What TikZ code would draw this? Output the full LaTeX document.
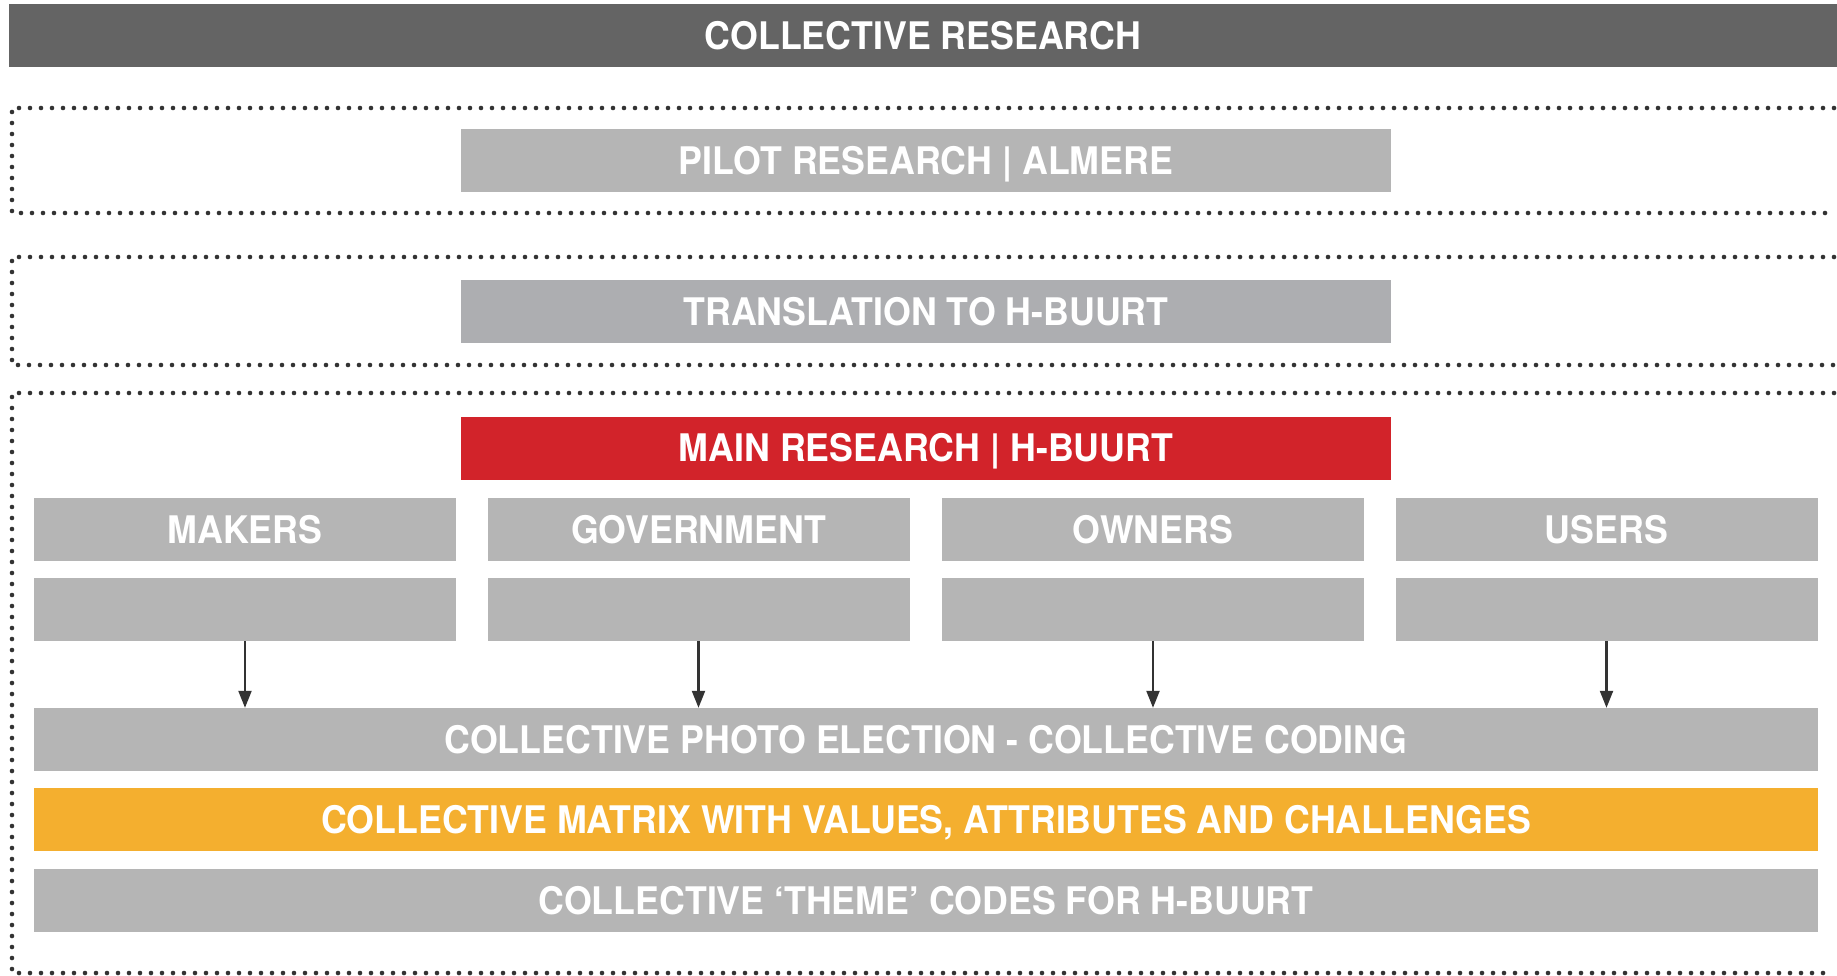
\documentclass[tikz,border=0pt]{standalone}
\usepackage{fontspec}
\setmainfont{TeX Gyre Heros}[FakeStretch=0.94]
\usetikzlibrary{arrows.meta}
\definecolor{topgray}{HTML}{646464}
\definecolor{boxgray}{HTML}{B5B5B5}
\definecolor{transgray}{HTML}{ADAEB1}
\definecolor{mainred}{HTML}{D2232A}
\definecolor{matorange}{HTML}{F4AF2F}
\definecolor{dotcol}{HTML}{333333}
\tikzset{
  blk/.style={rectangle, inner sep=0pt, draw=none, text=white,
    font=\fontsize{38}{40}\bfseries\selectfont, text height=27pt, text depth=0pt},
  colbox/.style={blk, fill=boxgray, minimum width=422pt, minimum height=63pt},
  midbox/.style={blk, minimum width=930pt, minimum height=63pt},
  widebox/.style={blk, minimum width=1784pt, minimum height=63pt},
  dotline/.style={draw=dotcol, line width=4.6pt, line cap=round, dash pattern=on 0pt off 11pt},
  arr/.style={draw=dotcol, line width=2.2pt, -{Triangle[length=17pt,width=13pt]}}
}
\begin{document}
\begin{tikzpicture}[x=1pt,y=-1pt]
\useasboundingbox (0,0) rectangle (1837,975);
% top bar
\node[blk, fill=topgray, minimum width=1828pt, minimum height=63pt] (top) at (923,35.5) {COLLECTIVE RESEARCH};
% dotted frames
\draw[dotline] (1834,108) -- (12,108) -- (12,213) -- (1834,213);
\draw[dotline] (1834,257) -- (12,257) -- (12,365) -- (1834,365);
\draw[dotline] (1834,393) -- (12,393) -- (12,973) -- (1834,973);
% middle boxes
\node[midbox, fill=boxgray] (pilot) at (926,160.5) {PILOT RESEARCH | ALMERE};
\node[midbox, fill=transgray] (trans) at (926,311.5) {TRANSLATION TO H-BUURT};
\node[midbox, fill=mainred] (main) at (926,448) {MAIN RESEARCH | H-BUURT};
% columns
\node[colbox] (c1) at (245,529.5) {MAKERS};
\node[colbox] (c2) at (698.5,529.5) {GOVERNMENT};
\node[colbox] (c3) at (1153,529.5) {OWNERS};
\node[colbox] (c4) at (1606.5,529.5) {USERS};
\node[colbox] (d1) at (245,609.5) {};
\node[colbox] (d2) at (698.5,609.5) {};
\node[colbox] (d3) at (1153,609.5) {};
\node[colbox] (d4) at (1606.5,609.5) {};
% wide boxes
\node[widebox, fill=boxgray] (photo) at (926,739.5) {COLLECTIVE PHOTO ELECTION - COLLECTIVE CODING};
\node[widebox, fill=matorange] (matrix) at (926,819.5) {COLLECTIVE MATRIX WITH VALUES, ATTRIBUTES AND CHALLENGES};
\node[widebox, fill=boxgray] (theme) at (926,900.5) {COLLECTIVE ‘THEME’ CODES FOR H-BUURT};
% arrows
\foreach \i in {1,2,3,4} {
  \draw[arr] (d\i.south) -- (d\i.south |- photo.north);
}
\end{tikzpicture}
\end{document}
